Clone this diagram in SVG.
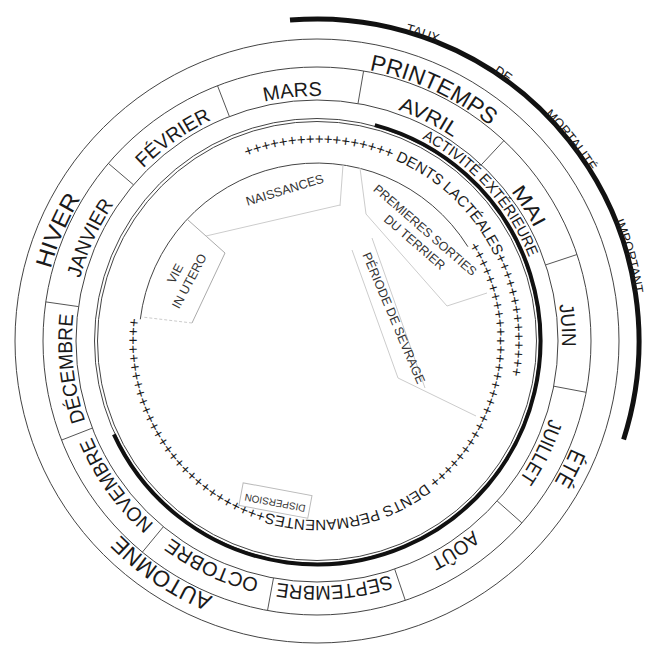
<svg xmlns="http://www.w3.org/2000/svg" width="647" height="646" viewBox="0 0 647 646">
<style>
.ring{fill:none;stroke:#444;stroke-width:1}
.div{stroke:#555;stroke-width:1}
.thick{fill:none;stroke:#111;stroke-width:4}
.sea{font-family:"Liberation Sans",Arial,sans-serif;font-size:23px;fill:#1a1a1a}
.mon{font-family:"Liberation Sans",Arial,sans-serif;font-size:20px;fill:#1a1a1a}
.act{font-family:"Liberation Sans",Arial,sans-serif;font-size:15px;fill:#1a1a1a}
.mort{font-family:"Liberation Sans",Arial,sans-serif;font-size:13px;fill:#1a1a1a}
.teeth{font-family:"Liberation Sans",Arial,sans-serif;font-size:15px;fill:#1a1a1a}
.lab{font-family:"Liberation Sans",Arial,sans-serif;font-size:12.5px;fill:#333;text-anchor:middle}
.reg{fill:none;stroke:#aaa;stroke-width:1}
.regl{fill:none;stroke:#ccc;stroke-width:1}
</style>
<defs>
<path id="pSea" d="M317,65 A276,276 0 1 1 317,617 A276,276 0 1 1 317,65 A276,276 0 1 1 317,617 A276,276 0 1 1 317,65"/>
<path id="pMon" d="M317,96 A245,245 0 1 1 317,586 A245,245 0 1 1 317,96 A245,245 0 1 1 317,586 A245,245 0 1 1 317,96"/>
<path id="pAct" d="M317,113 A228,228 0 1 1 317,569 A228,228 0 1 1 317,113 A228,228 0 1 1 317,569 A228,228 0 1 1 317,113"/>
<path id="pMort" d="M317,20 A321,321 0 1 1 317,662 A321,321 0 1 1 317,20 A321,321 0 1 1 317,662 A321,321 0 1 1 317,20"/>
<path id="pLact" d="M246.4,157.1 A197,197 0 0 1 511.0,375.2"/>
<path id="pPerm" d="M468.8,246.1 A179,179 0 1 1 139.3,319.2"/>
</defs>
<rect width="647" height="646" fill="#fff"/>

<g id="rings">
<circle class="ring" cx="317" cy="341" r="302"/>
<circle class="ring" cx="317" cy="341" r="274"/>
<circle class="ring" cx="317" cy="341" r="241"/>
<circle class="ring" cx="317" cy="341" r="222.5"/>
<circle class="ring" cx="317" cy="341" r="219.5"/>
<path class="ring" d="M140.3,319.3 A178,178 0 0 1 467.9,246.7"/>
</g>

<g id="month-dividers">
<line class="div" x1="229.4" y1="116.5" x2="217.5" y2="85.7"/>
<line class="div" x1="358.0" y1="103.5" x2="363.6" y2="71.0"/>
<line class="div" x1="481.4" y1="164.7" x2="503.9" y2="140.6"/>
<line class="div" x1="545.7" y1="264.9" x2="577.0" y2="254.5"/>
<line class="div" x1="553.7" y1="386.2" x2="586.1" y2="392.3"/>
<line class="div" x1="497.2" y1="501.0" x2="521.9" y2="522.9"/>
<line class="div" x1="394.7" y1="569.1" x2="405.3" y2="600.4"/>
<line class="div" x1="273.5" y1="578.0" x2="267.5" y2="610.5"/>
<line class="div" x1="163.4" y1="526.7" x2="142.4" y2="552.1"/>
<line class="div" x1="92.3" y1="428.1" x2="61.5" y2="440.1"/>
<line class="div" x1="78.5" y1="306.6" x2="45.8" y2="301.9"/>
<line class="div" x1="133.5" y1="184.8" x2="108.4" y2="163.4"/>
</g>

<g id="seasons">
<text class="sea" text-anchor="middle"><textPath href="#pSea" startOffset="1411.4" textLength="77" lengthAdjust="spacingAndGlyphs">HIVER</textPath></text>
<text class="sea" text-anchor="middle"><textPath href="#pSea" startOffset="1853.2" textLength="134" lengthAdjust="spacingAndGlyphs">PRINTEMPS</textPath></text>
<text class="sea" text-anchor="middle"><textPath href="#pSea" startOffset="2295.8" textLength="38" lengthAdjust="spacingAndGlyphs">ÉTÉ</textPath></text>
<text class="sea" text-anchor="middle"><textPath href="#pSea" startOffset="1029.4" textLength="112" lengthAdjust="spacingAndGlyphs">AUTOMNE</textPath></text>
</g>

<g id="months">
<text class="mon" text-anchor="middle"><textPath href="#pMon" startOffset="1258.4" textLength="82" lengthAdjust="spacingAndGlyphs">JANVIER</textPath></text>
<text class="mon" text-anchor="middle"><textPath href="#pMon" startOffset="1387.6" textLength="84" lengthAdjust="spacingAndGlyphs">FÉVRIER</textPath></text>
<text class="mon" text-anchor="middle"><textPath href="#pMon" startOffset="1514.6" textLength="58" lengthAdjust="spacingAndGlyphs">MARS</textPath></text>
<text class="mon" text-anchor="middle"><textPath href="#pMon" startOffset="1652.2" textLength="62" lengthAdjust="spacingAndGlyphs">AVRIL</textPath></text>
<text class="mon" text-anchor="middle"><textPath href="#pMon" startOffset="1784.4" textLength="44" lengthAdjust="spacingAndGlyphs">MAI</textPath></text>
<text class="mon" text-anchor="middle"><textPath href="#pMon" startOffset="1908.0" textLength="42" lengthAdjust="spacingAndGlyphs">JUIN</textPath></text>
<text class="mon" text-anchor="middle"><textPath href="#pMon" startOffset="2036.3" textLength="68" lengthAdjust="spacingAndGlyphs">JUILLET</textPath></text>
<text class="mon" text-anchor="middle"><textPath href="#pMon" startOffset="2165.4" textLength="52" lengthAdjust="spacingAndGlyphs">AOÛT</textPath></text>
<text class="mon" text-anchor="middle"><textPath href="#pMon" startOffset="2291.1" textLength="114" lengthAdjust="spacingAndGlyphs">SEPTEMBRE</textPath></text>
<text class="mon" text-anchor="middle"><textPath href="#pMon" startOffset="876.6" textLength="98" lengthAdjust="spacingAndGlyphs">OCTOBRE</textPath></text>
<text class="mon" text-anchor="middle"><textPath href="#pMon" startOffset="1001.5" textLength="108" lengthAdjust="spacingAndGlyphs">NOVEMBRE</textPath></text>
<text class="mon" text-anchor="middle"><textPath href="#pMon" startOffset="1126.7" textLength="108" lengthAdjust="spacingAndGlyphs">DÉCEMBRE</textPath></text>
</g>

<g id="activite">
<path class="thick" d="M374.8,125.1 A223.5,223.5 0 1 1 113.9,434.4"/>
<text class="act" text-anchor="middle"><textPath href="#pAct" startOffset="1622.6" textLength="163" lengthAdjust="spacingAndGlyphs">ACTIVITÉ EXTÉRIEURE</textPath></text>
</g>

<g id="mortalite">
<path fill="none" stroke="#111" stroke-width="5" d="M290.0,20.1 A322,322 0 0 1 623.6,439.4"/>
<text class="mort" text-anchor="middle"><textPath href="#pMort" startOffset="2122.8">TAUX</textPath></text>
<text class="mort" text-anchor="middle"><textPath href="#pMort" startOffset="2211.9">DE</textPath></text>
<text class="mort" text-anchor="middle"><textPath href="#pMort" startOffset="2306.0">MORTALITÉ</textPath></text>
<text class="mort" text-anchor="middle"><textPath href="#pMort" startOffset="2435.4">IMPORTANT</textPath></text>
</g>

<g id="dents-lacteales">
<text class="teeth"><textPath href="#pLact" textLength="416" lengthAdjust="spacing">+++++++++++++++++ DENTS LACTÉALES++++++++++++++</textPath></text>
</g>

<g id="dents-permanentes">
<text class="teeth"><textPath href="#pPerm" textLength="684" lengthAdjust="spacing">++++++++++++++++++++++++++++++ DENTS PERMANENTES+++++++++++++++++++++++++++++</textPath></text>
</g>

<g id="vie-in-utero">
<polyline class="reg" points="188,220 225,253 192,323"/>
<line class="regl" x1="192" y1="323" x2="142" y2="317" stroke-dasharray="3 2"/>
<text class="lab" transform="translate(182.5,277.5) rotate(-62)"><tspan x="0" y="-4">VIE</tspan><tspan x="0" y="12">IN UTERO</tspan></text>
</g>

<g id="naissances">
<line class="regl" x1="206" y1="236" x2="340" y2="205"/>
<line class="regl" x1="343" y1="165" x2="340" y2="206"/>
<text class="lab" transform="translate(286,194) rotate(-17)">NAISSANCES</text>
</g>

<g id="premieres-sorties">
<polyline class="regl" points="360,168 366,214 447,306 487,293"/>
<text class="lab" transform="translate(420,236) rotate(41)"><tspan x="0" y="-3.5">PREMIERES SORTIES</tspan><tspan x="0" y="12.5">DU TERRIER</tspan></text>
</g>

<g id="sevrage">
<polyline class="regl" points="352,250 398,378 476,416"/>
<line class="regl" x1="372" y1="238" x2="425" y2="388"/>
<text class="lab" transform="translate(394,318) rotate(67)" y="4.5">PÉRIODE DE SEVRAGE</text>
</g>

<g id="dispersion" transform="translate(275,503) rotate(190.6)">
<rect x="-35" y="-9" width="70" height="23" fill="none" stroke="#bbb" stroke-width="1"/>
<text class="lab" style="font-size:10px" y="3.6">DISPERSION</text>
</g>
</svg>
